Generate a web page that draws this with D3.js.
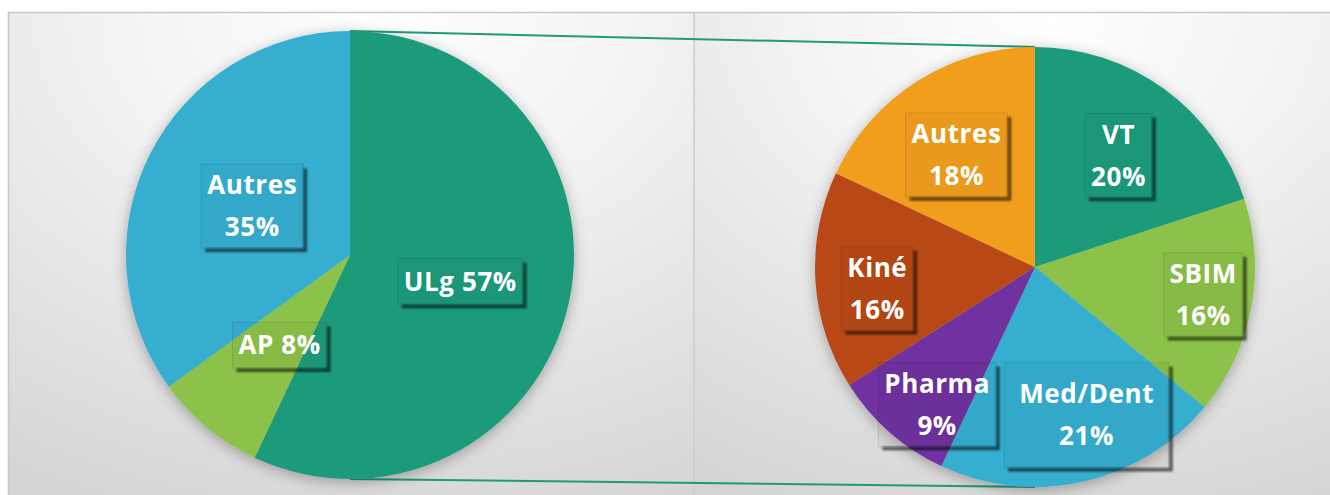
<!DOCTYPE html>
<html>
<head>
<meta charset="utf-8">
<script src="https://cdn.jsdelivr.net/npm/d3@7"></script>
<style>
  html, body { margin: 0; padding: 0; background: #fff; }
  svg { display: block; }
  .lbl { font-family: 'Open Sans', sans-serif; font-weight: 700; font-size: 26px; letter-spacing: 0.6px; fill: #fff; }
</style>
</head>
<body>
<div id="chart"></div>
<script>
// data
const leftCategories = ['ULg', 'AP', 'Autres'];
const leftValues = [57, 8, 35];
const leftColors = ['#1e9b7a', '#8cc24a', '#36aecf'];
const rightCategories = ['VT', 'SBIM', 'Med/Dent', 'Pharma', 'Kiné', 'Autres'];
const rightValues = [20, 16, 21, 9, 16, 18];
const rightColors = ['#1e9b7a', '#8cc24a', '#36aecf', '#7030a0', '#b84a18', '#f19e1c'];

// label layout (two-line or not, small nudges like Excel's best fit)
const leftBreak = [false, false, true];
const leftNudge = [[1, 2], [1, 4], [2, 2]];
const leftBoxExtra = [[0, 0], [0, 0], [0, 0]];
const rightNudge = [[-7, 13], [17, -1], [18, -2], [4, 22], [-4, 12], [4, 18]];
const rightBoxExtra = [[0, 0], [0, 0], [18, 21], [0, 0], [0, 0], [0, 0]];

const W = 1330, H = 495;
const left = { cx: 350, cy: 255, r: 224 };
const right = { cx: 1035, cy: 267, r: 220 };
const divX = 694;

const svg = d3.select('#chart').append('svg').attr('width', W).attr('height', H);
const defs = svg.append('defs');

const bg = defs.append('radialGradient').attr('id', 'bg')
  .attr('cx', '55%').attr('cy', '0%').attr('r', '110%').attr('fx', '55%').attr('fy', '0%');
bg.append('stop').attr('offset', '0%').attr('stop-color', '#ffffff');
bg.append('stop').attr('offset', '35%').attr('stop-color', '#f3f3f3');
bg.append('stop').attr('offset', '100%').attr('stop-color', '#d4d4d4');

const pieShadow = defs.append('filter').attr('id', 'pieShadow')
  .attr('x', '-20%').attr('y', '-20%').attr('width', '140%').attr('height', '140%');
pieShadow.append('feDropShadow').attr('dx', 0).attr('dy', 3).attr('stdDeviation', 7)
  .attr('flood-color', '#000').attr('flood-opacity', 0.3);

const boxShadow = defs.append('filter').attr('id', 'boxShadow')
  .attr('x', '-20%').attr('y', '-20%').attr('width', '140%').attr('height', '140%');
boxShadow.append('feGaussianBlur').attr('stdDeviation', 1.3);

// background panels
svg.append('rect').attr('x', 8).attr('y', 12).attr('width', divX - 8).attr('height', H)
  .attr('fill', 'url(#bg)');
svg.append('rect').attr('x', divX).attr('y', 12).attr('width', W - divX + 10).attr('height', H)
  .attr('fill', 'url(#bg)');
svg.append('rect').attr('x', 8.5).attr('y', 12.5).attr('width', W + 20).attr('height', H + 20)
  .attr('fill', 'none').attr('stroke', '#c8c8c8').attr('stroke-width', 1.5);
svg.append('line').attr('x1', divX).attr('x2', divX).attr('y1', 12).attr('y2', H)
  .attr('stroke', '#cccccc').attr('stroke-width', 1.5);

const pie = d3.pie().sort(null).value(d => d.value);

function drawPie(p, cats, vals, colors) {
  const data = cats.map((c, i) => ({ name: c, value: vals[i], color: colors[i] }));
  const arcs = pie(data);
  const arc = d3.arc().innerRadius(0).outerRadius(p.r);
  const g = svg.append('g').attr('transform', `translate(${p.cx},${p.cy})`);

  g.append('g').attr('filter', 'url(#pieShadow)')
    .selectAll('path').data(arcs).enter().append('path')
    .attr('d', arc).attr('fill', d => d.data.color);
  return { g, arcs, arc };
}

function drawLabels(p, g, arcs, frac, nudges, breaks, extra) {
  const total = d3.sum(arcs, d => d.value);
  const la = d3.arc().innerRadius(p.r * frac).outerRadius(p.r * frac);
  arcs.forEach((d, i) => {
    const c = la.centroid(d);
    const x = c[0] + nudges[i][0], y = c[1] + nudges[i][1];
    const pct = Math.round(d.value / total * 100) + '%';
    const lines = breaks[i] ? [d.data.name, pct] : [d.data.name + ' ' + pct];
    const lg = g.append('g').attr('transform', `translate(${x},${y})`);
    const sh = lg.append('g');
    const box = lg.append('rect');
    const t = lg.append('text').attr('class', 'lbl').attr('text-anchor', 'middle');
    lines.forEach((s, j) => {
      t.append('tspan').attr('x', 0)
        .attr('y', (j - (lines.length - 1) / 2) * 42)
        .attr('dy', '0.35em').text(s);
    });
    const tw = t.node().getBBox().width;
    const bw = tw + 12 + extra[i][0], bh = (lines.length === 1 ? 46 : 84) + extra[i][1];
    const bx = -bw / 2, by = -bh / 2;
    sh.append('path')
      .attr('d', `M${bx + bw + 2},${by + 4}V${by + bh + 2}H${bx + 4}`)
      .attr('fill', 'none').attr('stroke', 'rgba(0,0,0,0.6)').attr('stroke-width', 3.5)
      .attr('filter', 'url(#boxShadow)');
    box.attr('x', bx).attr('y', by).attr('width', bw).attr('height', bh)
      .attr('fill', 'rgba(0,0,0,0.03)').attr('stroke', 'rgba(0,0,0,0.10)').attr('stroke-width', 1);
  });
}

// connector lines between the pies
const lineColor = '#1e9b7a';
[-1, 1].forEach(s => {
  svg.append('line')
    .attr('x1', left.cx).attr('y1', left.cy + s * left.r)
    .attr('x2', right.cx).attr('y2', right.cy + s * right.r)
    .attr('stroke', lineColor).attr('stroke-width', 2);
});

const L = drawPie(left, leftCategories, leftValues, leftColors);
const R = drawPie(right, rightCategories, rightValues, rightColors);
drawLabels(left, L.g, L.arcs, 0.5, leftNudge, leftBreak, leftBoxExtra);
drawLabels(right, R.g, R.arcs, 0.7, rightNudge, rightCategories.map(() => true), rightBoxExtra);
</script>
</body>
</html>
